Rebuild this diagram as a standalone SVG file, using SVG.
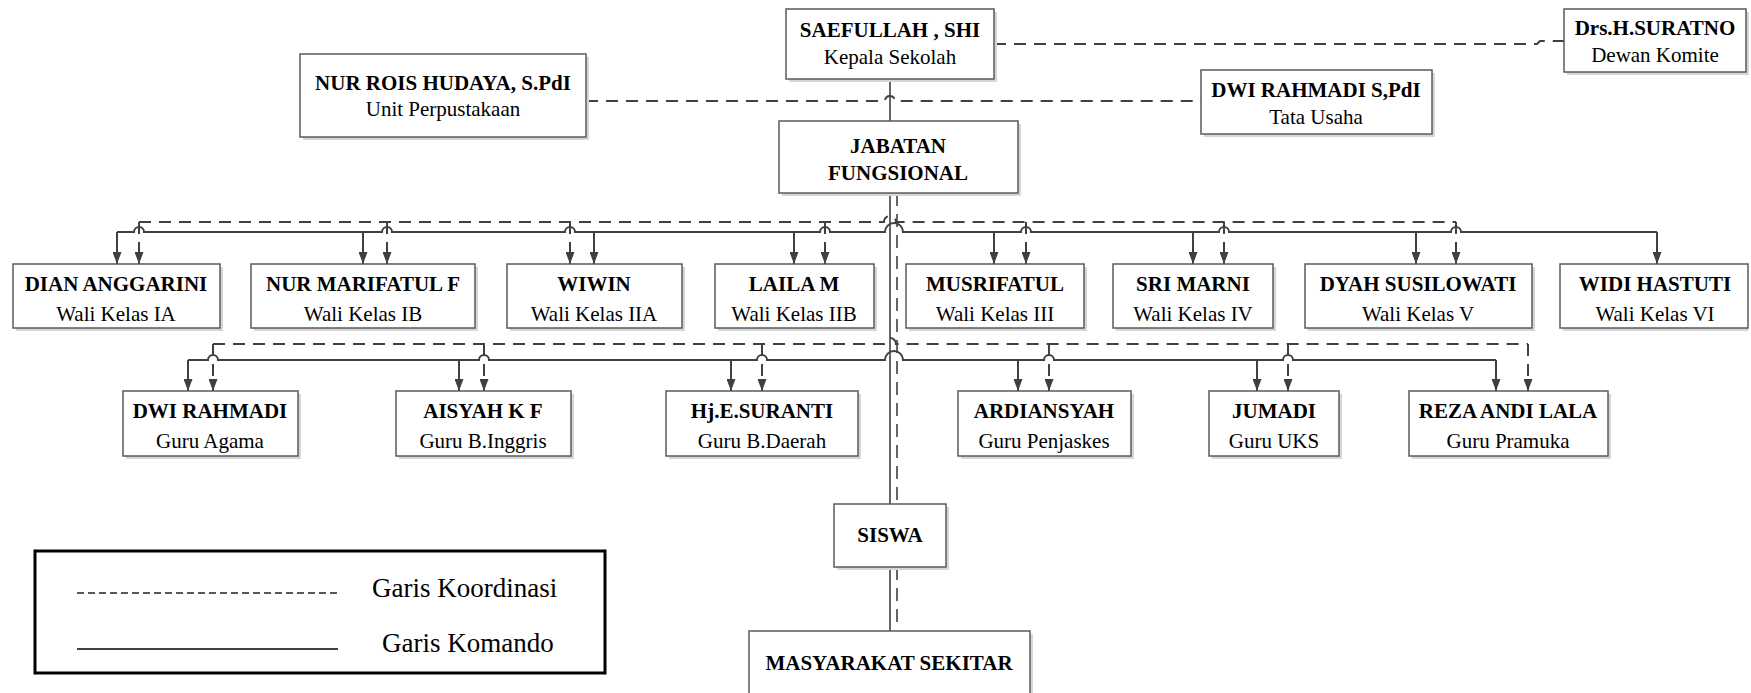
<svg xmlns="http://www.w3.org/2000/svg" width="1751" height="693" viewBox="0 0 1751 693">
<style>
.sh{fill:#d6d6d6}
.box{fill:#fff;stroke:#5a5a5a;stroke-width:1.5}
.n{font-family:"Liberation Serif","Times New Roman",serif;font-weight:bold;font-size:21px;fill:#000;text-anchor:middle}
.r{font-family:"Liberation Serif","Times New Roman",serif;font-size:21px;fill:#000;text-anchor:middle}
.lg{font-family:"Liberation Serif","Times New Roman",serif;font-size:27px;fill:#000}
.s{fill:none;stroke:#404040;stroke-width:2}
.d{fill:none;stroke:#404040;stroke-width:2;stroke-dasharray:12 8}
.t{fill:none;stroke:#404040;stroke-width:1.6}
.td{fill:none;stroke:#404040;stroke-width:1.6;stroke-dasharray:13 8}
.sa{marker-end:url(#ah)}
</style>
<defs>
<marker id="ah" viewBox="0 0 12 9" markerWidth="12" markerHeight="9" refX="12" refY="4.5" orient="auto" markerUnits="userSpaceOnUse">
<path d="M0,0 L12,4.5 L0,9 z" fill="#404040"/>
</marker>
</defs>

<g id="connectors">
<path class="t" d="M890 79 V121"/>
<path class="d" d="M586 101 H885 A5 5 0 0 1 895 101 H1201"/>
<path class="d" d="M994 44 H1537 L1540 41 H1564"/>
<path class="t" d="M890 193 V504"/>
<path class="td" d="M897 193 V504"/>
<path class="t" d="M890 567 V631"/>
<path class="td" d="M897 567 V624"/>
<path class="d" d="M139 222 H884 A6 6 0 0 1 896 222 H1456"/>
<path class="s" d="M117 232 H134 A5 5 0 0 1 144 232 H382 A5 5 0 0 1 392 232 H565 A5 5 0 0 1 575 232 H820 A5 5 0 0 1 830 232 H885 A9 9 0 0 1 903 232 H1021 A5 5 0 0 1 1031 232 H1219 A5 5 0 0 1 1229 232 H1451 A5 5 0 0 1 1461 232 H1657"/>
<path class="s sa" d="M117 232 V264"/>
<path class="d sa" d="M139 222 V264"/>
<path class="s sa" d="M363 232 V264"/>
<path class="d sa" d="M387 222 V264"/>
<path class="d sa" d="M570 222 V264"/>
<path class="s sa" d="M594 232 V264"/>
<path class="s sa" d="M794 232 V264"/>
<path class="d sa" d="M825 222 V264"/>
<path class="s sa" d="M994 232 V264"/>
<path class="d sa" d="M1026 222 V264"/>
<path class="s sa" d="M1193 232 V264"/>
<path class="d sa" d="M1224 222 V264"/>
<path class="s sa" d="M1416 232 V264"/>
<path class="d sa" d="M1456 222 V264"/>
<path class="s sa" d="M1657 232 V264"/>
<path class="d" d="M213 344 H884 A6 6 0 0 1 896 344 H1528"/>
<path class="s" d="M188 360 H208 A5 5 0 0 1 218 360 H479 A5 5 0 0 1 489 360 H757 A5 5 0 0 1 767 360 H885 A9 9 0 0 1 903 360 H1044 A5 5 0 0 1 1054 360 H1283 A5 5 0 0 1 1293 360 H1496"/>
<path class="s sa" d="M188 360 V391"/>
<path class="d sa" d="M213 344 V391"/>
<path class="s sa" d="M459 360 V391"/>
<path class="d sa" d="M484 344 V391"/>
<path class="s sa" d="M731 360 V391"/>
<path class="d sa" d="M762 344 V391"/>
<path class="s sa" d="M1018 360 V391"/>
<path class="d sa" d="M1049 344 V391"/>
<path class="s sa" d="M1257 360 V391"/>
<path class="d sa" d="M1288 344 V391"/>
<path class="s sa" d="M1496 360 V391"/>
<path class="d sa" d="M1528 344 V391"/>
</g>

<g id="kepala">
<rect class="sh" x="789" y="12" width="208" height="70"/>
<rect class="box" x="786" y="9" width="208" height="70"/>
<text class="n" x="890" y="37">SAEFULLAH , SHI</text>
<text class="r" x="890" y="64">Kepala Sekolah</text>
</g>
<g id="komite">
<rect class="sh" x="1567" y="12" width="182" height="63"/>
<rect class="box" x="1564" y="9" width="182" height="63"/>
<text class="n" x="1655" y="35">Drs.H.SURATNO</text>
<text class="r" x="1655" y="62">Dewan Komite</text>
</g>
<g id="perpustakaan">
<rect class="sh" x="303" y="57" width="286" height="83"/>
<rect class="box" x="300" y="54" width="286" height="83"/>
<text class="n" x="443" y="90">NUR ROIS HUDAYA, S.PdI</text>
<text class="r" x="443" y="116">Unit Perpustakaan</text>
</g>
<g id="tatausaha">
<rect class="sh" x="1204" y="73" width="231" height="64"/>
<rect class="box" x="1201" y="70" width="231" height="64"/>
<text class="n" x="1316" y="97">DWI RAHMADI S,PdI</text>
<text class="r" x="1316" y="124">Tata Usaha</text>
</g>
<g id="jabatan">
<rect class="sh" x="782" y="124" width="239" height="72"/>
<rect class="box" x="779" y="121" width="239" height="72"/>
<text class="n" x="898" y="153">JABATAN</text>
<text class="n" x="898" y="180">FUNGSIONAL</text>
</g>

<g id="wali1a">
<rect class="sh" x="16" y="267" width="207" height="64"/>
<rect class="box" x="13" y="264" width="207" height="64"/>
<text class="n" x="116" y="291">DIAN ANGGARINI</text>
<text class="r" x="116" y="321">Wali Kelas IA</text>
</g>
<g id="wali1b">
<rect class="sh" x="254" y="267" width="224" height="64"/>
<rect class="box" x="251" y="264" width="224" height="64"/>
<text class="n" x="363" y="291">NUR MARIFATUL F</text>
<text class="r" x="363" y="321">Wali Kelas IB</text>
</g>
<g id="wali2a">
<rect class="sh" x="510" y="267" width="175" height="64"/>
<rect class="box" x="507" y="264" width="175" height="64"/>
<text class="n" x="594" y="291">WIWIN</text>
<text class="r" x="594" y="321">Wali Kelas IIA</text>
</g>
<g id="wali2b">
<rect class="sh" x="718" y="267" width="159" height="64"/>
<rect class="box" x="715" y="264" width="159" height="64"/>
<text class="n" x="794" y="291">LAILA M</text>
<text class="r" x="794" y="321">Wali Kelas IIB</text>
</g>
<g id="wali3">
<rect class="sh" x="909" y="267" width="178" height="64"/>
<rect class="box" x="906" y="264" width="178" height="64"/>
<text class="n" x="995" y="291">MUSRIFATUL</text>
<text class="r" x="995" y="321">Wali Kelas III</text>
</g>
<g id="wali4">
<rect class="sh" x="1116" y="267" width="160" height="64"/>
<rect class="box" x="1113" y="264" width="160" height="64"/>
<text class="n" x="1193" y="291">SRI MARNI</text>
<text class="r" x="1193" y="321">Wali Kelas IV</text>
</g>
<g id="wali5">
<rect class="sh" x="1308" y="267" width="227" height="64"/>
<rect class="box" x="1305" y="264" width="227" height="64"/>
<text class="n" x="1418" y="291">DYAH SUSILOWATI</text>
<text class="r" x="1418" y="321">Wali Kelas V</text>
</g>
<g id="wali6">
<rect class="sh" x="1563" y="267" width="185" height="64"/>
<rect class="box" x="1560" y="264" width="188" height="64"/>
<text class="n" x="1655" y="291">WIDI HASTUTI</text>
<text class="r" x="1655" y="321">Wali Kelas VI</text>
</g>

<g id="guru-agama">
<rect class="sh" x="126" y="394" width="175" height="65"/>
<rect class="box" x="123" y="391" width="175" height="65"/>
<text class="n" x="210" y="418">DWI RAHMADI</text>
<text class="r" x="210" y="448">Guru Agama</text>
</g>
<g id="guru-inggris">
<rect class="sh" x="399" y="394" width="175" height="65"/>
<rect class="box" x="396" y="391" width="175" height="65"/>
<text class="n" x="483" y="418">AISYAH K F</text>
<text class="r" x="483" y="448">Guru B.Inggris</text>
</g>
<g id="guru-daerah">
<rect class="sh" x="669" y="394" width="192" height="65"/>
<rect class="box" x="666" y="391" width="192" height="65"/>
<text class="n" x="762" y="418">Hj.E.SURANTI</text>
<text class="r" x="762" y="448">Guru B.Daerah</text>
</g>
<g id="guru-penjaskes">
<rect class="sh" x="961" y="394" width="173" height="65"/>
<rect class="box" x="958" y="391" width="173" height="65"/>
<text class="n" x="1044" y="418">ARDIANSYAH</text>
<text class="r" x="1044" y="448">Guru Penjaskes</text>
</g>
<g id="guru-uks">
<rect class="sh" x="1212" y="394" width="130" height="65"/>
<rect class="box" x="1209" y="391" width="130" height="65"/>
<text class="n" x="1274" y="418">JUMADI</text>
<text class="r" x="1274" y="448">Guru UKS</text>
</g>
<g id="guru-pramuka">
<rect class="sh" x="1412" y="394" width="199" height="65"/>
<rect class="box" x="1409" y="391" width="199" height="65"/>
<text class="n" x="1508" y="418">REZA ANDI LALA</text>
<text class="r" x="1508" y="448">Guru Pramuka</text>
</g>

<g id="siswa">
<rect class="sh" x="837" y="507" width="112" height="63"/>
<rect class="box" x="834" y="504" width="112" height="63"/>
<text class="n" x="890" y="542">SISWA</text>
</g>
<g id="masyarakat">
<rect class="sh" x="752" y="634" width="281" height="70"/>
<rect class="box" x="749" y="631" width="281" height="70"/>
<text class="n" x="889" y="670">MASYARAKAT SEKITAR</text>
</g>

<g id="legend">
<rect x="35" y="551" width="570" height="122" fill="#fff" stroke="#000" stroke-width="3"/>
<line x1="77" y1="593" x2="338" y2="593" stroke="#222" stroke-width="1.4" stroke-dasharray="7 4"/>
<line x1="77" y1="649" x2="338" y2="649" stroke="#000" stroke-width="1.5"/>
<text class="lg" x="372" y="597">Garis Koordinasi</text>
<text class="lg" x="382" y="652">Garis Komando</text>
</g>
</svg>
